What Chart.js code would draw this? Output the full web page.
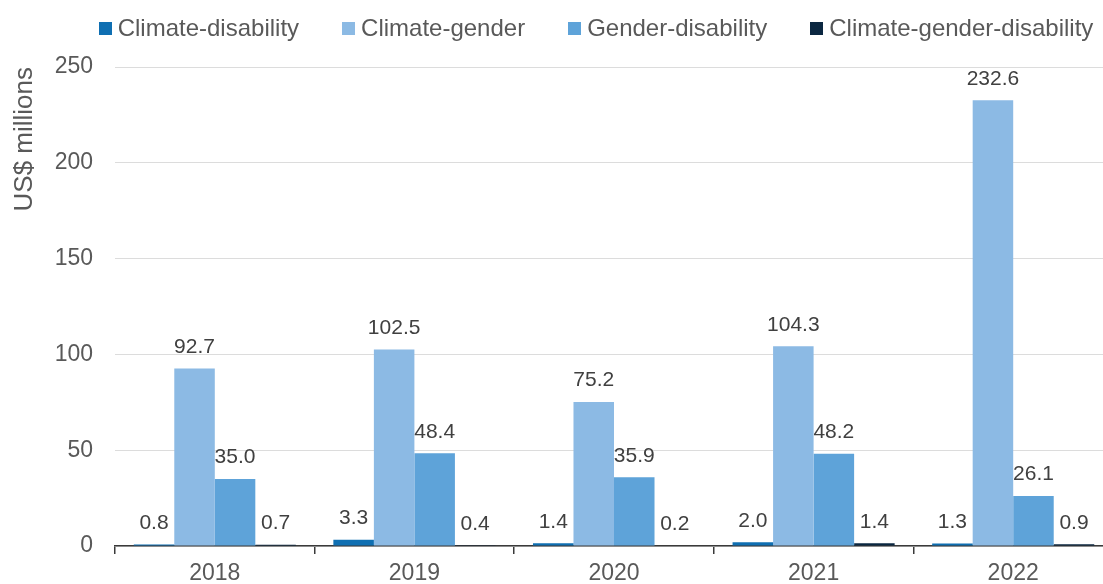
<!DOCTYPE html>
<html>
<head>
<meta charset="utf-8">
<title>Funding by intersection, 2018–2022</title>
<script src="https://cdn.jsdelivr.net/npm/chart.js@4/dist/chart.umd.min.js"></script>
<style>
  html, body { margin: 0; padding: 0; background: #fff; overflow: hidden; }
  #wrap { width: 1103px; height: 584px; overflow: hidden; }
  canvas { display: block; }
</style>
</head>
<body>
<div id="wrap"><canvas id="chart" width="1113" height="584"></canvas></div>
<script>
// Categories and series (US$ millions)
const years = ['2018', '2019', '2020', '2021', '2022'];
const seriesNames = ['Climate-disability', 'Climate-gender', 'Gender-disability', 'Climate-gender-disability'];
const climateDisability = [0.8, 3.3, 1.4, 2.0, 1.3];
const climateGender = [92.7, 102.5, 75.2, 104.3, 232.6];
const genderDisability = [35.0, 48.4, 35.9, 48.2, 26.1];
const climateGenderDisability = [0.7, 0.4, 0.2, 1.4, 0.9];
const yTickValues = [0, 50, 100, 150, 200, 250];
const axisTitle = 'US$ millions';

const seriesValues = [climateDisability, climateGender, genderDisability, climateGenderDisability];
const seriesColors = ['#0F6FB2', '#8CBAE4', '#5EA3D9', '#0B2741'];

const FONT = '"Liberation Sans", Arial, Helvetica, sans-serif';
const TEXT_GREY = '#595959';
const AXIS_DARK = '#3a3a3a';

// Legend row above the plot: square swatch, then label
const legendRow = {
  id: 'legendRow',
  afterDraw(chart) {
    const ctx = chart.ctx;
    const box = 13, gapText = 6, gapItem = 43, centerX = 596, y = 28.5;
    ctx.save();
    ctx.font = '24px ' + FONT;
    ctx.textBaseline = 'middle';
    ctx.textAlign = 'left';
    const items = chart.data.datasets.map(ds => ({
      text: ds.label, color: ds.backgroundColor, w: ctx.measureText(ds.label).width
    }));
    const total = items.reduce((s, it) => s + box + gapText + it.w, 0) + gapItem * (items.length - 1);
    let x = centerX - total / 2;
    items.forEach(it => {
      ctx.fillStyle = it.color;
      ctx.fillRect(Math.round(x), Math.round(y - box / 2), box, box);
      ctx.fillStyle = TEXT_GREY;
      ctx.fillText(it.text, x + box + gapText, y + 1);
      x += box + gapText + it.w + gapItem;
    });
    ctx.restore();
  }
};

// Value labels above each bar
const valueLabels = {
  id: 'valueLabels',
  afterDatasetsDraw(chart) {
    const ctx = chart.ctx;
    ctx.save();
    ctx.font = '21px ' + FONT;
    ctx.fillStyle = '#404040';
    ctx.textAlign = 'center';
    ctx.textBaseline = 'alphabetic';
    chart.data.datasets.forEach((ds, i) => {
      chart.getDatasetMeta(i).data.forEach((bar, j) => {
        ctx.fillText(ds.data[j].toFixed(1), bar.x, bar.y - 15.5);
      });
    });
    ctx.restore();
  }
};

new Chart(document.getElementById('chart'), {
  type: 'bar',
  data: {
    labels: years,
    datasets: seriesNames.map((name, i) => ({
      label: name,
      data: seriesValues[i],
      backgroundColor: seriesColors[i],
      borderWidth: 0,
      barPercentage: 1.0,
      categoryPercentage: 0.812
    }))
  },
  options: {
    responsive: false,
    animation: false,
    events: [],
    layout: { padding: { top: 67, right: 0, bottom: 0, left: 0 } },
    plugins: {
      legend: { display: false },
      tooltip: { enabled: false },
      title: { display: false }
    },
    scales: {
      x: {
        grid: {
          display: true,
          drawOnChartArea: false,
          drawTicks: true,
          tickLength: 8,
          color: AXIS_DARK,
          lineWidth: 1.5,
          offset: true
        },
        border: { display: true, color: AXIS_DARK, width: 1.5 },
        ticks: {
          color: TEXT_GREY,
          font: { family: FONT, size: 23 },
          padding: 6,
          maxRotation: 0
        },
        afterFit(scale) { scale.height = 38; }
      },
      y: {
        min: 0,
        max: 250,
        grid: { color: '#DCDCDC', lineWidth: 1, drawTicks: false },
        border: { display: false },
        ticks: {
          color: TEXT_GREY,
          font: { family: FONT, size: 23 },
          padding: 22
        },
        afterBuildTicks(scale) { scale.ticks = yTickValues.map(v => ({ value: v })); },
        title: {
          display: true,
          text: axisTitle,
          align: 'end',
          color: TEXT_GREY,
          font: { family: FONT, size: 26 },
          padding: { top: 9, bottom: 0 }
        },
        afterFit(scale) { scale.width = 115; }
      }
    }
  },
  plugins: [valueLabels, legendRow]
});
</script>
</body>
</html>
